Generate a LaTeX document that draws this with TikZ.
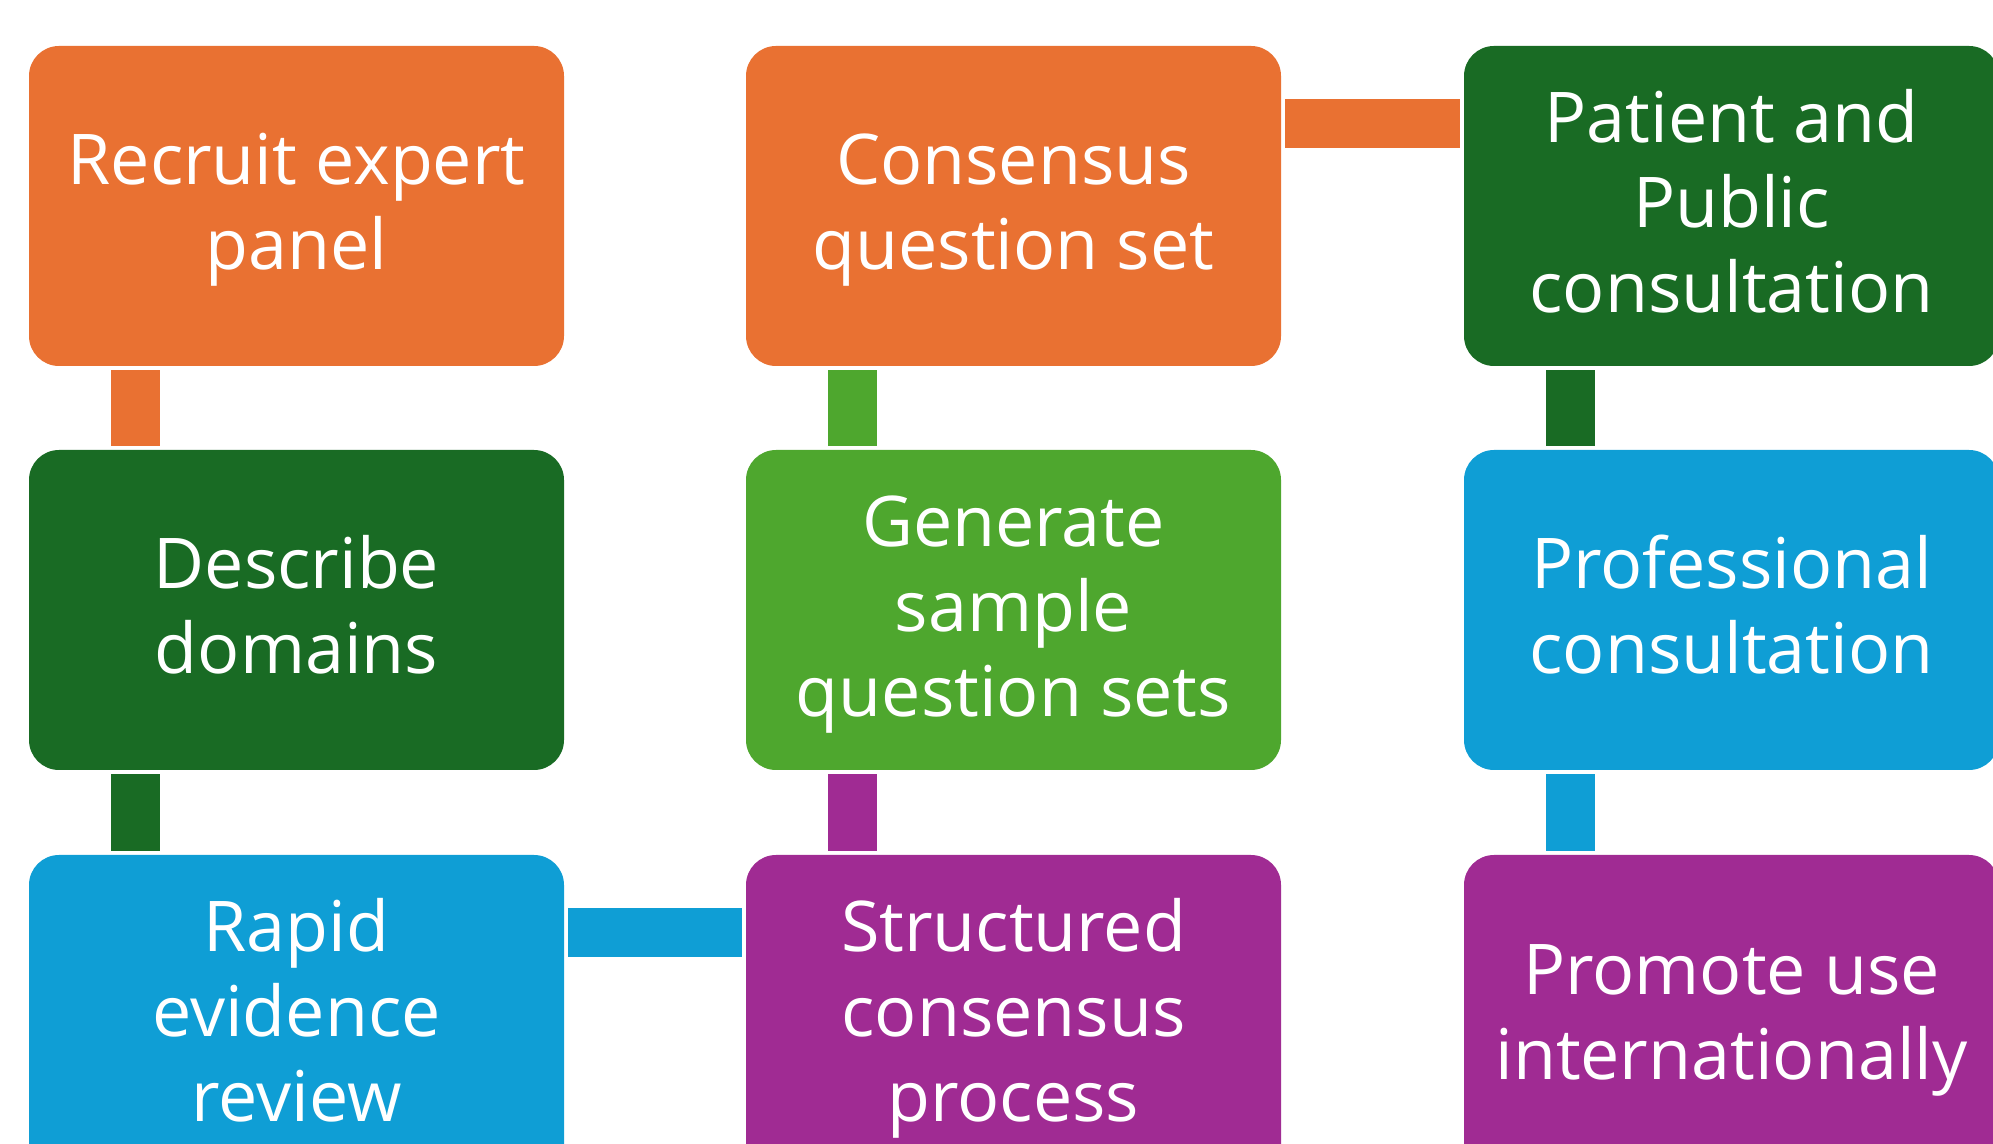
\documentclass[tikz,border=0pt]{standalone}
\usepackage{fontspec}
\setmainfont{Open Sans}
\definecolor{cOrange}{HTML}{E97132}
\definecolor{cDkGreen}{HTML}{196B24}
\definecolor{cGreen}{HTML}{4EA72E}
\definecolor{cBlue}{HTML}{0F9ED5}
\definecolor{cPurple}{HTML}{A02B93}
\newcommand{\ls}{\rule[-21pt]{0pt}{85pt}}
\begin{document}
\begin{tikzpicture}[x=1pt,y=1pt,
  box/.style={rectangle, rounded corners=30pt, minimum width=535pt, minimum height=320pt,
    inner sep=0pt, text=white, align=center, font=\fontsize{70}{85}\selectfont},
  conn/.style={line width=49pt, line cap=butt}]
\useasboundingbox (0,0) rectangle (1993,1143);
\clip (0,0) rectangle (1993,1143);
% row 1
\node[box, fill=cOrange] (recruit) at (296.5,937) {\ls Recruit expert\\\ls panel};
\node[box, fill=cOrange] (consensus) at (1013.5,937) {\ls Consensus\\\ls question set};
\node[box, fill=cDkGreen] (patient) at (1731.5,937) {\ls Patient and\\\ls Public\\\ls consultation};
% row 2
\node[box, fill=cDkGreen] (describe) at (296.5,533) {\ls Describe\\\ls domains};
\node[box, fill=cGreen] (generate) at (1013.5,533) {\ls Generate\\\ls sample\\\ls question sets};
\node[box, fill=cBlue] (professional) at (1731.5,533) {\ls Professional\\\ls consultation};
% row 3
\node[box, fill=cBlue] (rapid) at (296.5,128) {\ls Rapid\\\ls evidence\\\ls review};
\node[box, fill=cPurple] (structured) at (1013.5,128) {\ls Structured\\\ls consensus\\\ls process};
\node[box, fill=cPurple] (promote) at (1731.5,128) {\ls Promote use\\\ls internationally};
% connectors
\draw[conn, cOrange] ([shift={(106.5,-4)}]recruit.south west) -- ([shift={(106.5,4)}]describe.north west);
\draw[conn, cDkGreen] ([shift={(106.5,-4)}]describe.south west) -- ([shift={(106.5,4)}]rapid.north west);
\draw[conn, cBlue] ([shift={(4,-77.5)}]rapid.north east) -- ([shift={(-4,-77.5)}]structured.north west);
\draw[conn, cPurple] ([shift={(106.5,4)}]structured.north west) -- ([shift={(106.5,-4)}]generate.south west);
\draw[conn, cGreen] ([shift={(106.5,4)}]generate.north west) -- ([shift={(106.5,-4)}]consensus.south west);
\draw[conn, cOrange] ([shift={(4,-77.5)}]consensus.north east) -- ([shift={(-4,-77.5)}]patient.north west);
\draw[conn, cDkGreen] ([shift={(106.5,-4)}]patient.south west) -- ([shift={(106.5,4)}]professional.north west);
\draw[conn, cBlue] ([shift={(106.5,-4)}]professional.south west) -- ([shift={(106.5,4)}]promote.north west);
\end{tikzpicture}
\end{document}
